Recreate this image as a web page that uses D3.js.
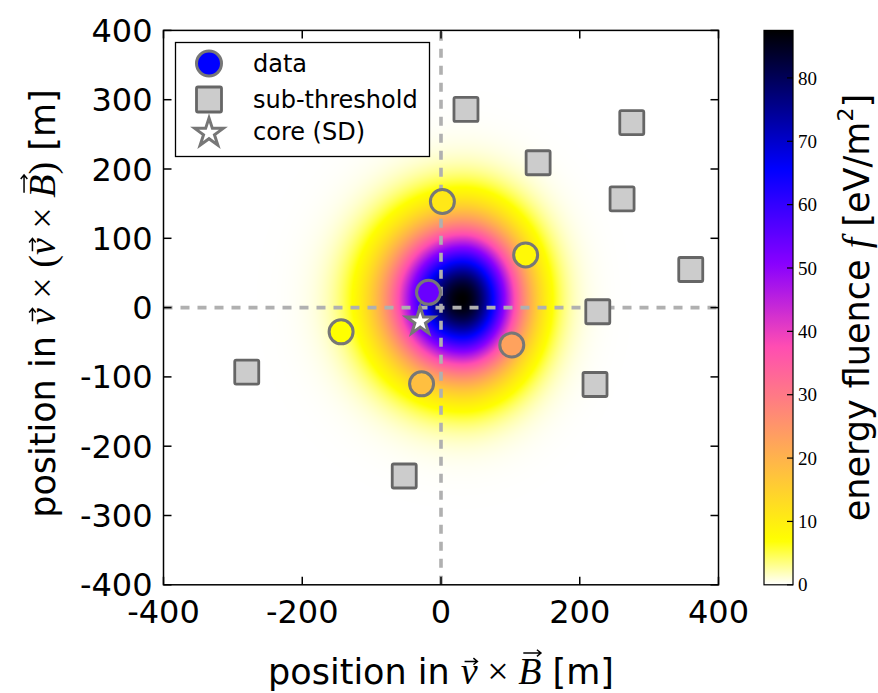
<!DOCTYPE html>
<html><head><meta charset="utf-8">
<script src="https://cdn.jsdelivr.net/npm/d3@7"></script>
<style>body{margin:0;background:#fff} svg{display:block}</style>
</head><body>
<script>
// ---------------- data ----------------
const legendLabels = ["data", "sub-threshold", "core (SD)"];
const stationX = [2, 122, -18, -144, 102, -28];          // m, along v x B
const stationY = [153, 76, 22, -35, -54, -110];           // m, along v x (v x B)
const stationFluence = [11, 8, 54, 7, 23, 18];            // eV/m^2
const subX = [36, 275, 140, 261, 360, 226, 222, -280, -53];
const subY = [286, 267, 209, 157, 55, -6, -111, -93, -243];
const coreX = [-30];
const coreY = [-20];
const xTickValues = [-400, -200, 0, 200, 400];
const yTickValues = [-400, -300, -200, -100, 0, 100, 200, 300, 400];
const cbTickValues = [0, 10, 20, 30, 40, 50, 60, 70, 80];
const fluenceRange = [0, 87.5];
// footprint model (2D LDF) parameters
const ldfCenter = [31, 12];        // m
const ldfPeak = [87.5];            // eV/m^2
const ldfSigma = [100, 82, 102];   // m : left, right, vertical

// ---------------- layout ----------------
const W = 878, H = 693;
const P = {left: 163.5, right: 718.5, top: 30.4, bottom: 584.8};
const CB = {left: 764, right: 793, top: 30.4, bottom: 584.8};
const FONT = "'DejaVu Sans', sans-serif";
const SERIF = "'Liberation Serif', 'DejaVu Serif', serif";

const svg = d3.select("body").append("svg").attr("width", W).attr("height", H)
  .style("background", "#fff");

const x = d3.scaleLinear().domain([-400, 400]).range([P.left, P.right]);
const y = d3.scaleLinear().domain([-400, 400]).range([P.bottom, P.top]);

// gnuplot2 reversed colormap
function clamp(v) { return Math.max(0, Math.min(1, v)); }
function gnuplot2(t) {
  const r = clamp(t / 0.32 - 0.78125);
  const g = clamp(2 * t - 0.84);
  let b;
  if (t < 0.25) b = 4 * t; else if (t < 0.42) b = 1; else if (t < 0.92) b = -2 * t + 1.84; else b = t / 0.08 - 11.5;
  b = clamp(b);
  return d3.rgb(r * 255, g * 255, b * 255);
}
const color = d3.scaleSequential(t => gnuplot2(1 - t)).domain(fluenceRange);

function footprint(mx, my) {
  const dx = mx - ldfCenter[0], dy = my - ldfCenter[1];
  const sx = dx < 0 ? ldfSigma[0] : ldfSigma[1];
  const sy = ldfSigma[2];
  return ldfPeak[0] * Math.exp(-(dx * dx) / (sx * sx) - (dy * dy) / (sy * sy));
}

// ---------------- heatmap ----------------
const pw = Math.round(P.right - P.left), ph = Math.round(P.bottom - P.top);
const canvas = document.createElement("canvas");
canvas.width = pw; canvas.height = ph;
const ctx = canvas.getContext("2d");
const img = ctx.createImageData(pw, ph);
for (let j = 0; j < ph; j++) {
  for (let i = 0; i < pw; i++) {
    const mx = x.invert(P.left + i + 0.5), my = y.invert(P.top + j + 0.5);
    const c = d3.rgb(color(footprint(mx, my)));
    const k = (j * pw + i) * 4;
    img.data[k] = c.r; img.data[k + 1] = c.g; img.data[k + 2] = c.b; img.data[k + 3] = 255;
  }
}
ctx.putImageData(img, 0, 0);
svg.append("image").attr("x", P.left).attr("y", P.top).attr("width", P.right - P.left)
  .attr("height", P.bottom - P.top).attr("preserveAspectRatio", "none")
  .attr("href", canvas.toDataURL());

// ---------------- dashed axes lines ----------------
const dash = svg.append("g").attr("stroke", "#b0b0b0").attr("stroke-width", 3.6)
  .attr("stroke-dasharray", "9,8").attr("fill", "none");
dash.append("line").attr("x1", P.left).attr("x2", P.right).attr("y1", y(0)).attr("y2", y(0));
dash.append("line").attr("x1", x(0)).attr("x2", x(0)).attr("y1", P.bottom).attr("y2", P.top);

// ---------------- markers ----------------
const subs = subX.map((v, i) => ({x: v, y: subY[i]}));
const sq = 24;
svg.append("g").selectAll("rect").data(subs).join("rect")
  .attr("x", d => x(d.x) - sq / 2).attr("y", d => y(d.y) - sq / 2)
  .attr("width", sq).attr("height", sq).attr("rx", 1.5)
  .attr("fill", "#cccccc").attr("stroke", "#666666").attr("stroke-width", 2.8);

const stations = stationX.map((v, i) => ({x: v, y: stationY[i], f: stationFluence[i]}));
svg.append("g").selectAll("circle").data(stations).join("circle")
  .attr("cx", d => x(d.x)).attr("cy", d => y(d.y)).attr("r", 12)
  .attr("fill", d => color(d.f)).attr("stroke", "#777777").attr("stroke-width", 3);

const starR = 14.5;
const star = d3.symbol(d3.symbolStar, starR * starR / 0.8908130915292852);
svg.append("g").selectAll("path").data(coreX.map((v, i) => ({x: v, y: coreY[i]}))).join("path")
  .attr("d", star).attr("transform", d => `translate(${x(d.x)},${y(d.y)})`)
  .attr("fill", "#fff").attr("stroke", "#777777").attr("stroke-width", 3).attr("stroke-linejoin", "miter");

// ---------------- frame and ticks ----------------
const TL = 8;
const fg = svg.append("g").attr("stroke", "#000").attr("stroke-width", 1.5);
fg.append("rect").attr("x", P.left).attr("y", P.top).attr("width", P.right - P.left)
  .attr("height", P.bottom - P.top).attr("fill", "none");
xTickValues.forEach(v => {
  fg.append("line").attr("x1", x(v)).attr("x2", x(v)).attr("y1", P.bottom).attr("y2", P.bottom - TL);
  fg.append("line").attr("x1", x(v)).attr("x2", x(v)).attr("y1", P.top).attr("y2", P.top + TL);
});
yTickValues.forEach(v => {
  fg.append("line").attr("y1", y(v)).attr("y2", y(v)).attr("x1", P.left).attr("x2", P.left + TL);
  fg.append("line").attr("y1", y(v)).attr("y2", y(v)).attr("x1", P.right).attr("x2", P.right - TL);
});
const TFS = 32;
svg.append("g").selectAll("text").data(xTickValues).join("text")
  .attr("x", d => x(d)).attr("y", 623).attr("text-anchor", "middle")
  .attr("font-family", FONT).attr("font-size", TFS).text(d => d);
svg.append("g").selectAll("text").data(yTickValues).join("text")
  .attr("x", P.left - 11).attr("y", d => y(d)).attr("dy", "0.36em").attr("text-anchor", "end")
  .attr("font-family", FONT).attr("font-size", TFS).text(d => d);

// ---------------- math-ish labels ----------------
function mathLabel(parent, tx, ty, rot, segs, fs) {
  const g = parent.append("g").attr("transform", `translate(${tx},${ty}) rotate(${rot})`);
  const t = g.append("text").attr("text-anchor", "middle").attr("font-size", fs)
    .attr("font-family", FONT).attr("fill", "#000");
  let idx = 0;
  const arrows = [];
  segs.forEach(s => {
    const sp = t.append("tspan").text(s.t);
    if (s.serif) sp.attr("font-family", SERIF);
    if (s.italic) sp.attr("font-style", "italic");
    if (s.size) sp.attr("font-size", s.size);
    if (s.dy) sp.attr("dy", s.dy);
    if (s.arrow) arrows.push({i: idx, cap: s.cap});
    idx += s.t.length;
  });
  const node = t.node();
  arrows.forEach(a => {
    const e = node.getExtentOfChar(a.i);
    const top = a.cap ? e.y + e.height * 0.12 : e.y + e.height * 0.32;
    const ay = top - 2;
    const x0 = e.x + e.width * 0.22, x1 = e.x + e.width * 0.98;
    g.append("path").attr("d", `M${x0},${ay}H${x1}M${x1 - 4},${ay - 3.3}L${x1},${ay}L${x1 - 4},${ay + 3.3}`)
      .attr("stroke", "#000").attr("stroke-width", 1.5).attr("fill", "none");
  });
  return g;
}
const LFS = 35;
const MFS = 38;
mathLabel(svg, x(0), 684, 0, [
  {t: "position in "},
  {t: "v", serif: true, italic: true, arrow: true, size: MFS},
  {t: " × ", serif: true, size: MFS},
  {t: "B", serif: true, italic: true, arrow: true, cap: true, size: MFS},
  {t: " [m]"}
], LFS);
mathLabel(svg, 55, y(0) - 4, -90, [
  {t: "position in "},
  {t: "v", serif: true, italic: true, arrow: true, size: MFS},
  {t: " × (", serif: true, size: MFS},
  {t: "v", serif: true, italic: true, arrow: true, size: MFS},
  {t: " × ", serif: true, size: MFS},
  {t: "B", serif: true, italic: true, arrow: true, cap: true, size: MFS},
  {t: ")", serif: true, size: MFS},
  {t: " [m]"}
], LFS);

// ---------------- colorbar ----------------
const cy = d3.scaleLinear().domain(fluenceRange).range([CB.bottom, CB.top]);
const grad = svg.append("defs").append("linearGradient").attr("id", "cbgrad")
  .attr("x1", 0).attr("y1", 1).attr("x2", 0).attr("y2", 0);
d3.range(0, 1.0001, 1 / 128).forEach(t => {
  grad.append("stop").attr("offset", t).attr("stop-color", color(fluenceRange[0] + t * (fluenceRange[1] - fluenceRange[0])));
});
svg.append("rect").attr("x", CB.left).attr("y", CB.top).attr("width", CB.right - CB.left)
  .attr("height", CB.bottom - CB.top).attr("fill", "url(#cbgrad)").attr("stroke", "#000").attr("stroke-width", 1.2);
const cbt = svg.append("g");
cbTickValues.forEach(v => {
  cbt.append("line").attr("x1", CB.right).attr("x2", CB.right - 6).attr("y1", cy(v)).attr("y2", cy(v))
    .attr("stroke", "#000").attr("stroke-width", 1.2);
  cbt.append("text").attr("x", CB.right + 5).attr("y", cy(v)).attr("dy", "0.35em")
    .attr("font-family", SERIF).attr("font-size", 19).text(v);
});
mathLabel(svg, 869, y(0), -90, [
  {t: "energy fluence "},
  {t: "f", serif: true, italic: true, size: MFS},
  {t: " [eV/m"},
  {t: "2", size: 22, dy: "-0.75em"},
  {t: "]", dy: "0.48em"}
], LFS);

// ---------------- legend ----------------
const L = {x: 175.5, y: 42.5, w: 254, h: 114};
const lg = svg.append("g");
lg.append("rect").attr("x", L.x).attr("y", L.y).attr("width", L.w).attr("height", L.h)
  .attr("fill", "#fff").attr("stroke", "#000").attr("stroke-width", 1.3);
const rowY = [63.5, 99.5, 132];
const mx0 = 209;
lg.append("circle").attr("cx", mx0).attr("cy", rowY[0]).attr("r", 12.5)
  .attr("fill", "#0000ff").attr("stroke", "#777777").attr("stroke-width", 3);
lg.append("rect").attr("x", mx0 - 12.5).attr("y", rowY[1] - 12.5).attr("width", 25).attr("height", 25).attr("rx", 1.5)
  .attr("fill", "#cccccc").attr("stroke", "#666666").attr("stroke-width", 2.8);
lg.append("path").attr("d", d3.symbol(d3.symbolStar, 15 * 15 / 0.8908130915292852))
  .attr("transform", `translate(${mx0},${rowY[2] + 1})`)
  .attr("fill", "#fff").attr("stroke", "#777777").attr("stroke-width", 3);
legendLabels.forEach((s, i) => {
  lg.append("text").attr("x", 253).attr("y", rowY[i] + 8).attr("font-family", FONT)
    .attr("font-size", 24).text(s);
});
</script>
</body></html>
